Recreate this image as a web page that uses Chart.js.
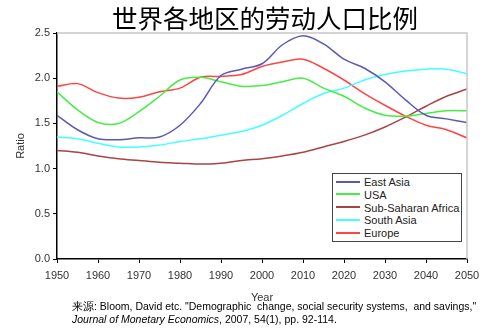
<!DOCTYPE html>
<html>
<head>
<meta charset="utf-8">
<script src="https://cdn.jsdelivr.net/npm/chart.js@4.4.1/dist/chart.umd.min.js"></script>
<style>
    html, body { margin: 0; padding: 0; background: #fff; }
    #wrap { position: relative; width: 500px; height: 336px; overflow: hidden; }
    #chart { position: absolute; left: 0; top: 0; }
    #title {
        position: absolute; left: 15px; top: 0; width: 500px; height: 33px;
        text-align: center; font: 25.5px "Noto Sans CJK SC", sans-serif; line-height: 33px; color: #000;
    }
    #legend {
        position: absolute; left: 332px; top: 173px; width: 128px; height: 67px;
        border: 1.5px solid #444; background: #fff;
        font: 11px "Liberation Sans", Arial, sans-serif; color: #222;
    }
    #legend div { position: absolute; left: 0; height: 13px; line-height: 13px; white-space: nowrap; }
    #legend span.sw { display: inline-block; width: 24px; height: 2px; margin: 0 4px 3px 3px; vertical-align: middle; }
    #source {
        position: absolute; left: 72px; top: 300px; width: 428px;
        font: 10.5px "Liberation Sans", Arial, sans-serif; line-height: 13px; color: #000;
    }
</style>
</head>
<body>
<div id="wrap">
    <canvas id="chart" width="500" height="336"></canvas>
    <div id="title">世界各地区的劳动人口比例</div>
    <div id="legend"></div>
    <div id="source">来源: Bloom, David etc. "Demographic&nbsp; change, social security systems,&nbsp; and savings,"<br><i>Journal of Monetary Economics</i>, 2007, 54(1), pp. 92-114.</div>
</div>
<script>
// data, every 5 years
const years = [1950, 1955, 1960, 1965, 1970, 1975, 1980, 1985, 1990, 1995, 2000,
    2005, 2010, 2015, 2020, 2025, 2030, 2035, 2040, 2045, 2050];
const eastAsia = [1.59, 1.43, 1.33, 1.32, 1.34, 1.35, 1.48, 1.72, 2.03, 2.10, 2.16,
    2.37, 2.47, 2.38, 2.21, 2.11, 1.96, 1.76, 1.59, 1.55, 1.51];
const usa = [1.85, 1.65, 1.51, 1.50, 1.63, 1.80, 1.98, 2.01, 1.96, 1.91, 1.92,
    1.96, 2.00, 1.89, 1.80, 1.67, 1.59, 1.58, 1.61, 1.64, 1.64];
const subSaharan = [1.20, 1.18, 1.14, 1.11, 1.09, 1.07, 1.06, 1.05, 1.06, 1.09, 1.11,
    1.14, 1.18, 1.24, 1.30, 1.37, 1.46, 1.57, 1.69, 1.80, 1.88];
const southAsia = [1.35, 1.33, 1.28, 1.24, 1.24, 1.26, 1.30, 1.33, 1.37, 1.41, 1.48,
    1.59, 1.72, 1.83, 1.89, 1.98, 2.04, 2.08, 2.10, 2.10, 2.05];
const europe = [1.91, 1.94, 1.84, 1.78, 1.79, 1.85, 1.89, 2.01, 2.02, 2.04, 2.13,
    2.18, 2.21, 2.11, 1.98, 1.83, 1.70, 1.58, 1.48, 1.43, 1.34];

const seriesNames = ['East Asia', 'USA', 'Sub-Saharan Africa', 'South Asia', 'Europe'];
const seriesValues = [eastAsia, usa, subSaharan, southAsia, europe];
const seriesColors = ['#5a5ab4', '#44ee44', '#aa4444', '#44ffff', '#ff4444'];
const yTicks = [0, 0.5, 1.0, 1.5, 2.0, 2.5];

const toPoints = (vals) => vals.map((v, i) => ({ x: years[i], y: v }));

// light grey frame on top and right
const framePlugin = {
    id: 'frame',
    afterDraw(chart) {
        const { ctx, chartArea: a } = chart;
        ctx.save();
        ctx.strokeStyle = '#c8c8c8';
        ctx.lineWidth = 1.5;
        ctx.beginPath();
        ctx.moveTo(a.left, a.top);
        ctx.lineTo(a.right, a.top);
        ctx.lineTo(a.right, a.bottom);
        ctx.stroke();
        ctx.restore();
    }
};

const tickFont = { family: '"Liberation Sans", Arial, sans-serif', size: 11 };

new Chart(document.getElementById('chart'), {
    type: 'line',
    data: {
        datasets: seriesNames.map((name, i) => ({
            label: name,
            data: toPoints(seriesValues[i]),
            borderColor: seriesColors[i],
            borderWidth: 1.5,
            pointRadius: 0,
            tension: 0.35,
            fill: false,
        })),
    },
    options: {
        responsive: false,
        animation: false,
        layout: { padding: { top: 33, right: 33, left: 0, bottom: 0 } },
        plugins: {
            legend: { display: false },
            tooltip: { enabled: false },
        },
        scales: {
            x: {
                type: 'linear',
                min: 1950,
                max: 2050,
                afterFit: (s) => { s.height = 77; },
                ticks: {
                    stepSize: 10,
                    color: '#333',
                    font: tickFont,
                    padding: 6,
                    maxRotation: 0,
                    callback: (v) => String(v),
                },
                grid: { drawOnChartArea: false, drawTicks: true, tickLength: 4, color: '#000' },
                border: { color: '#000', width: 1.5 },
                title: {
                    display: true,
                    text: 'Year',
                    color: '#333',
                    font: tickFont,
                    padding: { top: 0, bottom: 31 },
                },
            },
            y: {
                min: 0,
                max: 2.5,
                afterFit: (s) => { s.width = 57; },
                afterBuildTicks: (s) => { s.ticks = yTicks.map((v) => ({ value: v })); },
                ticks: {
                    color: '#333',
                    font: tickFont,
                    padding: 3,
                    callback: (v) => v.toFixed(1),
                },
                grid: { drawOnChartArea: false, drawTicks: true, tickLength: 4, color: '#000' },
                border: { color: '#000', width: 1.5 },
                title: {
                    display: true,
                    text: 'Ratio',
                    color: '#333',
                    font: tickFont,
                    padding: { top: 14, bottom: 0 },
                },
            },
        },
    },
    plugins: [framePlugin],
});

// legend box built from the same names and colours
const legend = document.getElementById('legend');
seriesNames.forEach((name, i) => {
    const row = document.createElement('div');
    row.style.top = (2 + i * 12.8) + 'px';
    row.innerHTML = `<span class="sw" style="background:${seriesColors[i]}"></span>${name}`;
    legend.appendChild(row);
});
</script>
</body>
</html>
